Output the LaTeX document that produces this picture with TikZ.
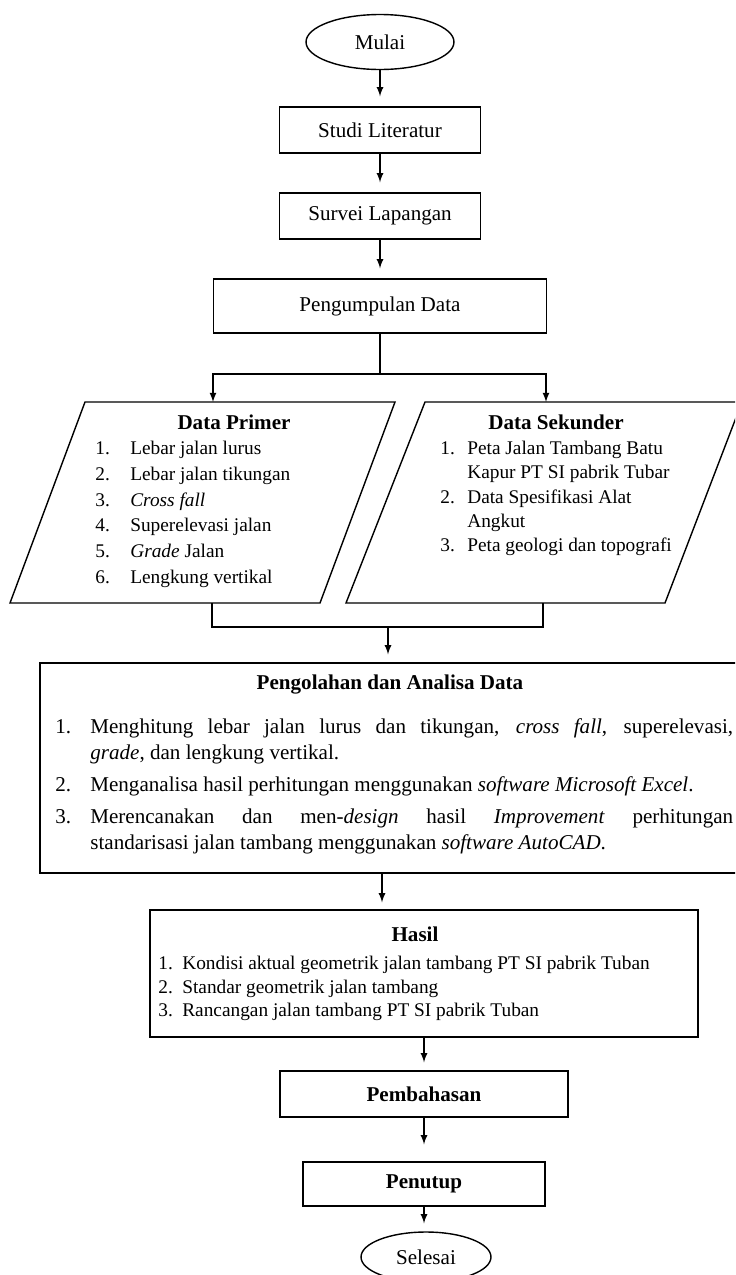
\documentclass[tikz,border=0pt,12pt]{standalone}
\usepackage{fontspec}
\setmainfont{Liberation Serif}
\usetikzlibrary{shapes.geometric}

\begin{document}
\begin{tikzpicture}[x=0.02cm, y=-0.02cm, >=latex,
	every node/.style={inner sep=0pt},
	box/.style={draw, rectangle, line width=0.8pt},
	oval/.style={draw, ellipse, line width=0.8pt},
	wire/.style={line width=0.8pt},
	flow/.style={line width=0.8pt, ->, shorten >=0.2cm}]
	\useasboundingbox (0,0) rectangle (735,1275);
	\clip (0,0) rectangle (735,1275);

	\node[oval, minimum width=2.96cm, minimum height=1.1cm] (mulai) at (380,42) {Mulai};
	\node[box, minimum width=4.02cm, minimum height=0.92cm] (studi) at (380,130) {Studi Literatur};
	\node[box, minimum width=4.02cm, minimum height=0.92cm] (survei) at (380,216) {Survei Lapangan};
	\node[box, minimum width=6.66cm, minimum height=1.08cm] (kumpul) at (380,306) {Pengumpulan Data};

	\draw[flow] (mulai) -- (studi);
	\draw[flow] (studi) -- (survei);
	\draw[flow] (survei) -- (kumpul);

	% percabangan data
	\coordinate (cabang) at (380,374);
	\coordinate (primin) at (213,402);
	\coordinate (sekin) at (546,402);
	\draw[wire] (kumpul) -- (cabang);
	\draw[wire, ->] (cabang) -| (primin);
	\draw[wire, ->] (cabang) -| (sekin);

	% data primer
	\coordinate (prim-nw) at (85,402);
	\coordinate (prim-ne) at (395,402);
	\coordinate (prim-se) at (320,603);
	\coordinate (prim-sw) at (10,603);
	\draw[wire] (prim-nw) -- (prim-ne) -- (prim-se) -- (prim-sw) -- cycle;
	\node[font=\bfseries] (primjudul) at (234,422) {Data Primer};
	\node[anchor=north west, font=\fontsize{11}{14.6}\selectfont] (primisi) at (95,436.5) {%
		\begin{tabular}{@{}p{0.7cm}@{}l@{}}
			1. & Lebar jalan lurus\\
			2. & Lebar jalan tikungan\\
			3. & \emph{Cross fall}\\
			4. & Superelevasi jalan\\
			5. & \emph{Grade} Jalan\\
			6. & Lengkung vertikal
		\end{tabular}};

	% data sekunder
	\coordinate (sek-nw) at (425,402);
	\coordinate (sek-ne) at (742,402);
	\coordinate (sek-se) at (665,603);
	\coordinate (sek-sw) at (346,603);
	\draw[wire] (sek-nw) -- (sek-ne) -- (sek-se) -- (sek-sw) -- cycle;
	\node[font=\bfseries] (sekjudul) at (556,422) {Data Sekunder};
	\node[anchor=north west, font=\fontsize{11}{13.8}\selectfont] (sekisi) at (440,437.4) {%
		\begin{tabular}{@{}p{0.54cm}@{}l@{}}
			1. & Peta Jalan Tambang Batu\\
			   & Kapur PT SI pabrik Tubar\\
			2. & Data Spesifikasi Alat\\
			   & Angkut\\
			3. & Peta geologi dan topografi
		\end{tabular}};

	% penggabungan
	\coordinate (primout) at (212,603);
	\coordinate (sekout) at (543,603);
	\coordinate (gabung) at (388,627);
	\draw[wire] (primout) |- (gabung) -| (sekout);

	% pengolahan
	\node[box, minimum width=14.1cm, minimum height=4.2cm] (olah) at (392.5,768) {};
	\draw[flow, shorten >=0.16cm] (gabung) -- (gabung |- olah.north);
	\node[font=\bfseries] (olahjudul) at (390,685) {Pengolahan dan Analisa Data};
	\node[anchor=north west, font=\fontsize{12}{14.8}\selectfont] (olahisi) at (55,715) {%
		\begin{tabular}{@{}p{0.7cm}@{}p{12.86cm}@{}}
			1. & Menghitung lebar jalan lurus dan tikungan, \emph{cross fall}, superelevasi,\linebreak
			     \emph{grade}, dan lengkung vertikal.\\[3.4pt]
			2. & Menganalisa hasil perhitungan menggunakan \emph{software Microsoft Excel}.\\[3.4pt]
			3. & Merencanakan dan men-\emph{design} hasil \emph{Improvement} perhitungan\linebreak
			     standarisasi jalan tambang menggunakan \emph{software AutoCAD}.
		\end{tabular}};

	% hasil
	\node[box, minimum width=10.96cm, minimum height=2.54cm] (hasil) at (424,973.5) {};
	\coordinate (olahout) at (382,873);
	\draw[flow, shorten >=0.14cm] (olahout) -- (olahout |- hasil.north);
	\node[font=\bfseries] (hasiljudul) at (415,934) {Hasil};
	\node[anchor=north west, font=\fontsize{11}{13.4}\selectfont] (hasilisi) at (158,952.9) {%
		\begin{tabular}{@{}p{0.48cm}@{}l@{}}
			1. & Kondisi aktual geometrik jalan tambang PT SI pabrik Tuban\\
			2. & Standar geometrik jalan tambang\\
			3. & Rancangan jalan tambang PT SI pabrik Tuban
		\end{tabular}};

	\node[box, minimum width=5.76cm, minimum height=0.92cm, font=\bfseries] (bahas) at (424,1094) {Pembahasan};
	\node[box, minimum width=4.84cm, minimum height=0.88cm, font=\bfseries] (tutup) at (424,1184) {Penutup};
	\node[oval, minimum width=2.6cm, minimum height=1.0cm] (selesai) at (426,1257) {Selesai};

	\draw[flow, shorten >=0.16cm] (hasil) -- (bahas);
	\draw[flow, shorten >=0.34cm] (bahas) -- (tutup);
	\draw[flow, shorten >=0.16cm] (tutup.south) -- (tutup.south |- selesai.north);
\end{tikzpicture}
\end{document}
